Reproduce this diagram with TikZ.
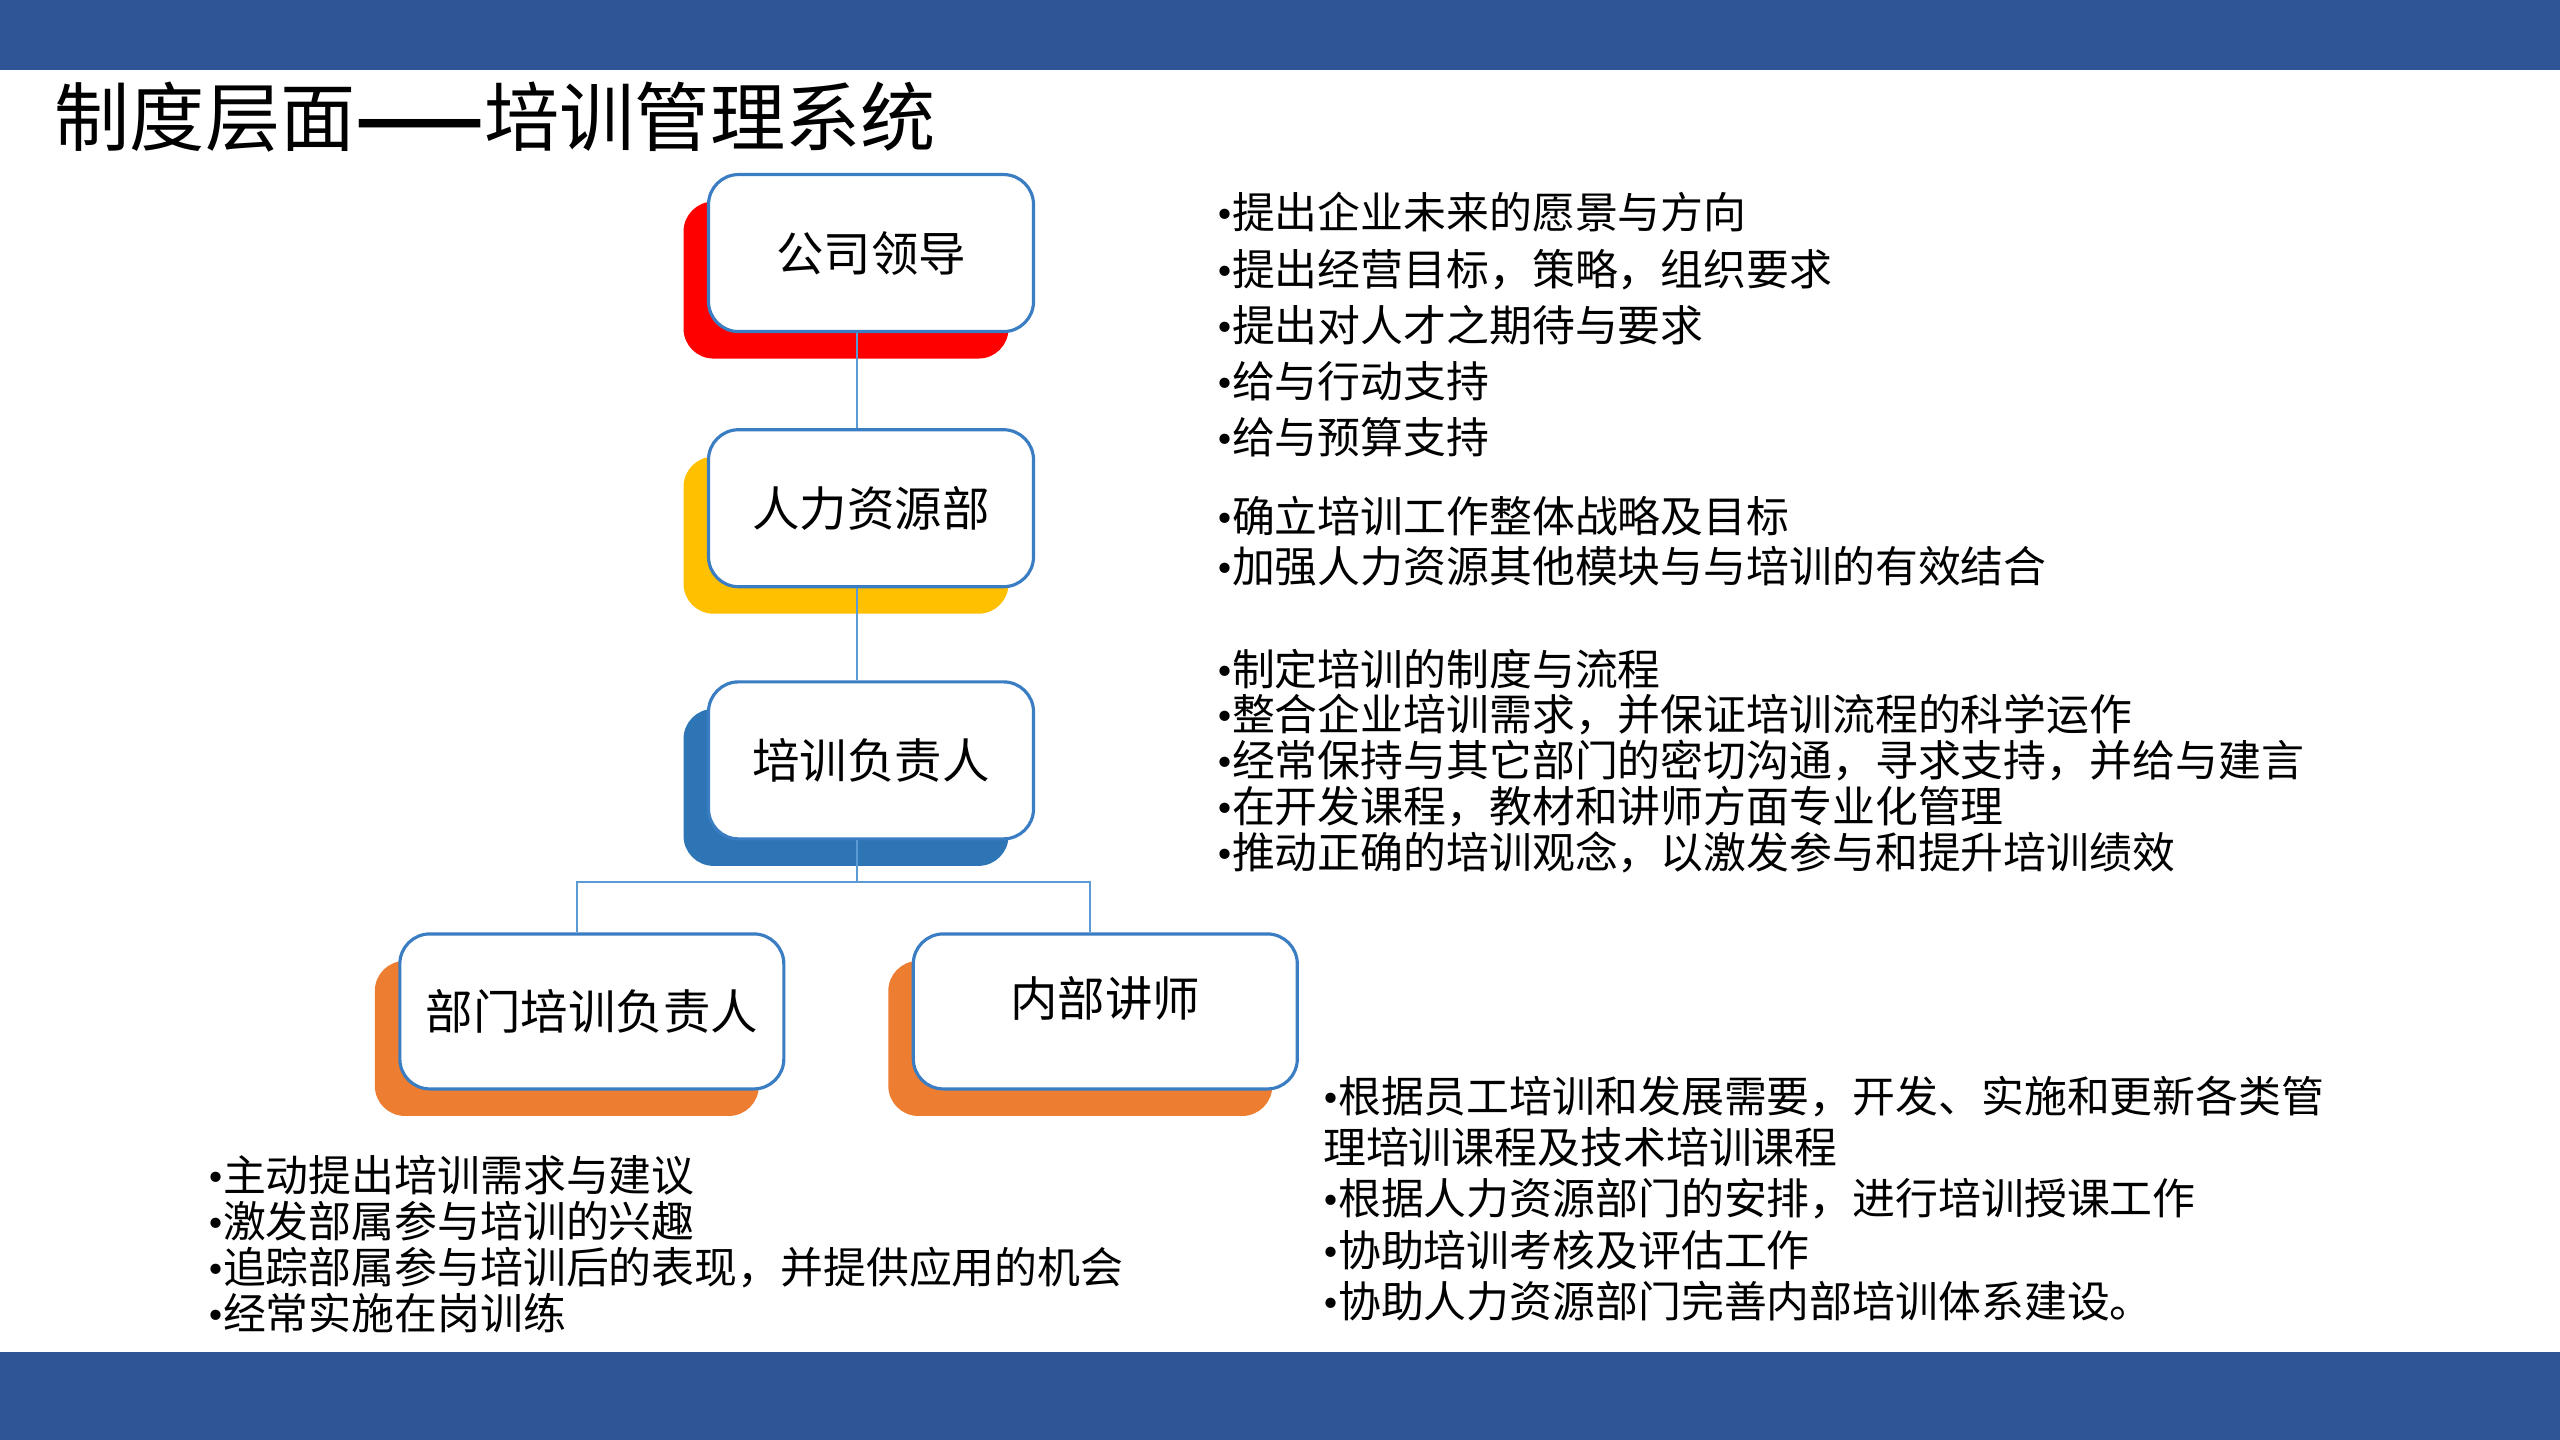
\documentclass[tikz,border=0pt]{standalone}
\usepackage{fontspec}
\setmainfont{Noto Sans CJK SC}
\newfontfamily\dotfont{Liberation Serif}
\newcommand{\bul}{{\dotfont •}}
\usepackage{tikz}
\usetikzlibrary{positioning, shadows}
\definecolor{SlideBlue}{HTML}{2F5597}
\definecolor{BoxLine}{HTML}{3A7DC2}
\definecolor{LinkBlue}{HTML}{5B9BD5}
\definecolor{ShadowRed}{HTML}{FF0000}
\definecolor{ShadowGold}{HTML}{FFC000}
\definecolor{ShadowBlue}{HTML}{2E75B6}
\definecolor{ShadowOrange}{HTML}{ED7D31}

\begin{document}
\begin{tikzpicture}[
        x=0.01633cm, y=-0.01633cm,
        rolebox/.style={rectangle, rounded corners=0.3cm, draw=BoxLine, line width=0.9pt, fill=white,
            minimum width=3.25cm, minimum height=1.57cm, font=\fontsize{13.5}{16}\selectfont,
            general shadow={fill=#1, shadow xshift=-0.25cm, shadow yshift=-0.27cm}},
        widebox/.style={rolebox=#1, minimum width=3.84cm, minimum height=1.55cm},
        notes/.style={anchor=west, align=left, inner sep=0pt, font=\fontsize{12.2}{#1}\selectfont},
        link/.style={draw=LinkBlue, line width=0.6pt}
    ]

    % Background
    \useasboundingbox (0,0) rectangle (1568,882);
    \fill[SlideBlue] (0,0) rectangle (1568,43);
    \fill[SlideBlue] (0,828) rectangle (1568,882);

    % Title
    \node[anchor=west, inner sep=0pt, font=\fontsize{21.4}{24}\selectfont] (title) at (33,72) {制度层面{\bfseries ——}培训管理系统};

    % Roles
    \node[rolebox=ShadowRed] (boss) at (533.5,155) {公司领导};
    \node[rolebox=ShadowGold, below=0.95cm of boss] (hr) {人力资源部};
    \node[rolebox=ShadowBlue, below=0.92cm of hr] (lead) {培训负责人};
    \node[widebox=ShadowOrange] (dept) at (362.5,619.5) {部门培训负责人};
    \node[widebox=ShadowOrange, text depth=0.3cm] (lecturer) at (677,619.5) {内部讲师};

    % Links
    \coordinate (spine) at (525,0);
    \coordinate (fork) at (525,540);
    \draw[link] (boss.south -| spine) -- (hr.north -| spine);
    \draw[link] (hr.south -| spine) -- (lead.north -| spine);
    \draw[link] (lead.south -| spine) -- (fork);
    \draw[link] ([xshift=-0.15cm]dept.north) |- (fork) -| ([xshift=-0.15cm]lecturer.north);

    % Duties
    \node[notes=16pt] (bossNotes) at (745,199) {\bul 提出企业未来的愿景与方向\\\bul 提出经营目标，策略，组织要求\\\bul 提出对人才之期待与要求\\\bul 给与行动支持\\\bul 给与预算支持};
    \node[notes=14.3pt] (hrNotes) at (745,331.5) {\bul 确立培训工作整体战略及目标\\\bul 加强人力资源其他模块与与培训的有效结合};
    \node[notes=13pt] (leadNotes) at (745,466) {\bul 制定培训的制度与流程\\\bul 整合企业培训需求，并保证培训流程的科学运作\\\bul 经常保持与其它部门的密切沟通，寻求支持，并给与建言\\\bul 在开发课程，教材和讲师方面专业化管理\\\bul 推动正确的培训观念，以激发参与和提升培训绩效};
    \node[notes=14.6pt] (lecturerNotes) at (810,734) {\bul 根据员工培训和发展需要，开发、实施和更新各类管\\理培训课程及技术培训课程\\\bul 根据人力资源部门的安排，进行培训授课工作\\\bul 协助培训考核及评估工作\\\bul 协助人力资源部门完善内部培训体系建设。};
    \node[notes=13pt] (deptNotes) at (127,762) {\bul 主动提出培训需求与建议\\\bul 激发部属参与培训的兴趣\\\bul 追踪部属参与培训后的表现，并提供应用的机会\\\bul 经常实施在岗训练};

\end{tikzpicture}
\end{document}
